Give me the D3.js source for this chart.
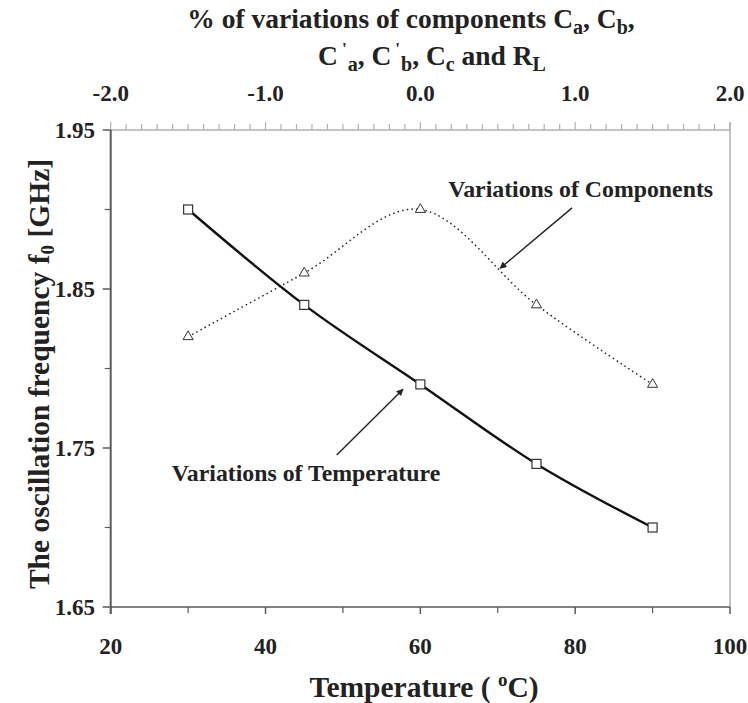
<!DOCTYPE html>
<html>
<head>
<meta charset="utf-8">
<script src="https://cdn.jsdelivr.net/npm/d3@7"></script>
<style>
  html, body { margin: 0; padding: 0; background: #fff; }
  svg { display: block; }
  text { font-family: "Liberation Serif", "Times New Roman", serif; font-weight: bold; fill: #222; }
</style>
</head>
<body>
<script>
// ---- data ----
const temperatures = [30, 45, 60, 75, 90];
const freqVsTemperature = [1.90, 1.84, 1.79, 1.74, 1.70];
const componentVariation = [-1.5, -0.75, 0.0, 0.75, 1.5];
const freqVsComponents = [1.82, 1.86, 1.90, 1.84, 1.79];

const bottomTickValues = [20, 40, 60, 80, 100];
const bottomMinorTicks = [30, 50, 70, 90];
const topTickValues = [-2.0, -1.0, 0.0, 1.0, 2.0];
const leftTickValues = [1.65, 1.75, 1.85, 1.95];
const leftMinorTicks = [1.70, 1.80, 1.90];

// ---- layout ----
const W = 748, H = 703;
const plot = { left: 110.7, right: 730, top: 130, bottom: 607 };

const svg = d3.select("body").append("svg").attr("width", W).attr("height", H);

const x = d3.scaleLinear().domain([20, 100]).range([plot.left, plot.right]);
const xTop = d3.scaleLinear().domain([-2, 2]).range([plot.left, plot.right]);
const y = d3.scaleLinear().domain([1.65, 1.95]).range([plot.bottom, plot.top]);

const darkAxis = "#5a5a5a", lightAxis = "#b0b0b0";
const tickFont = 23;

// top axis (light)
const topMinor = d3.range(-20, 21).map(d => d / 10);
const gTop = svg.append("g");
gTop.append("line").attr("x1", plot.left).attr("x2", plot.right)
  .attr("y1", plot.top).attr("y2", plot.top).attr("stroke", lightAxis).attr("stroke-width", 1.5);
gTop.selectAll("line.t").data(topMinor).join("line").attr("class", "t")
  .attr("x1", d => xTop(d)).attr("x2", d => xTop(d))
  .attr("y1", plot.top)
  .attr("y2", d => Math.abs(d - Math.round(d)) < 1e-9 ? plot.top - 8 : plot.top - 6)
  .attr("stroke", lightAxis).attr("stroke-width", 1.2);
gTop.selectAll("text").data(topTickValues).join("text")
  .attr("x", d => xTop(d)).attr("y", 101).attr("text-anchor", "middle")
  .attr("font-size", tickFont).text(d => d.toFixed(1));

// right axis (light)
svg.append("line").attr("x1", plot.right).attr("x2", plot.right)
  .attr("y1", plot.top - 8).attr("y2", plot.bottom).attr("stroke", lightAxis).attr("stroke-width", 1.5);

// bottom axis (dark)
const gBottom = svg.append("g");
gBottom.append("line").attr("x1", plot.left).attr("x2", plot.right)
  .attr("y1", plot.bottom).attr("y2", plot.bottom).attr("stroke", darkAxis).attr("stroke-width", 1.5);
gBottom.selectAll("line.maj").data(bottomTickValues).join("line").attr("class", "maj")
  .attr("x1", d => x(d)).attr("x2", d => x(d)).attr("y1", plot.bottom).attr("y2", plot.bottom + 7)
  .attr("stroke", darkAxis).attr("stroke-width", 1.5);
gBottom.selectAll("line.min").data(bottomMinorTicks).join("line").attr("class", "min")
  .attr("x1", d => x(d)).attr("x2", d => x(d)).attr("y1", plot.bottom).attr("y2", plot.bottom + 6)
  .attr("stroke", darkAxis).attr("stroke-width", 1.2);
gBottom.selectAll("text").data(bottomTickValues).join("text")
  .attr("x", d => x(d)).attr("y", 654).attr("text-anchor", "middle")
  .attr("font-size", tickFont).text(d => d);

// left axis (dark)
const gLeft = svg.append("g");
gLeft.append("line").attr("x1", plot.left).attr("x2", plot.left)
  .attr("y1", plot.top).attr("y2", plot.bottom + 7).attr("stroke", darkAxis).attr("stroke-width", 2);
gLeft.selectAll("line.maj").data(leftTickValues).join("line").attr("class", "maj")
  .attr("x1", plot.left - 8).attr("x2", plot.left).attr("y1", d => y(d)).attr("y2", d => y(d))
  .attr("stroke", darkAxis).attr("stroke-width", 1.5);
gLeft.selectAll("line.min").data(leftMinorTicks).join("line").attr("class", "min")
  .attr("x1", plot.left - 6).attr("x2", plot.left).attr("y1", d => y(d)).attr("y2", d => y(d))
  .attr("stroke", darkAxis).attr("stroke-width", 1.2);
gLeft.selectAll("text").data(leftTickValues).join("text")
  .attr("x", 95).attr("y", d => y(d)).attr("dy", "0.35em").attr("text-anchor", "end")
  .attr("font-size", tickFont).text(d => d.toFixed(2));

// ---- series ----
const curve = d3.curveCardinal.tension(0);

const tempPts = temperatures.map((t, i) => [x(t), y(freqVsTemperature[i])]);
const compPts = componentVariation.map((c, i) => [xTop(c), y(freqVsComponents[i])]);

svg.append("path").attr("d", d3.line().curve(curve)(compPts))
  .attr("fill", "none").attr("stroke", "#222").attr("stroke-width", 1.5)
  .attr("stroke-dasharray", "1.5,3.2");

svg.append("path").attr("d", d3.line().curve(curve)(tempPts))
  .attr("fill", "none").attr("stroke", "#111").attr("stroke-width", 2.4);

// square markers
svg.selectAll("rect.sq").data(tempPts).join("rect").attr("class", "sq")
  .attr("x", d => d[0] - 4.5).attr("y", d => d[1] - 4.5).attr("width", 9).attr("height", 9)
  .attr("fill", "#fff").attr("stroke", "#333").attr("stroke-width", 1.2);

// triangle markers
const tri = d3.symbol().type(d3.symbolTriangle).size(44);
svg.selectAll("path.tri").data(compPts).join("path").attr("class", "tri")
  .attr("transform", d => `translate(${d[0]},${d[1]})`)
  .attr("d", tri).attr("fill", "#fff").attr("stroke", "#333").attr("stroke-width", 1);

// ---- annotations ----
const defs = svg.append("defs");
defs.append("marker").attr("id", "arrow").attr("viewBox", "0 0 10 10")
  .attr("refX", 9).attr("refY", 5).attr("markerWidth", 9).attr("markerHeight", 7)
  .attr("markerUnits", "userSpaceOnUse").attr("orient", "auto")
  .append("path").attr("d", "M0,0 L10,5 L0,10 z").attr("fill", "#222");

const annFont = 23.8;
svg.append("line")
  .attr("x1", x(79.6)).attr("y1", y(1.901)).attr("x2", x(70.3)).attr("y2", y(1.863))
  .attr("stroke", "#222").attr("stroke-width", 1.4).attr("marker-end", "url(#arrow)");
svg.append("text").attr("x", x(63.6)).attr("y", y(1.908)).attr("font-size", annFont)
  .text("Variations of Components");

svg.append("line")
  .attr("x1", x(49.2)).attr("y1", y(1.7456)).attr("x2", x(57.76)).attr("y2", y(1.787))
  .attr("stroke", "#222").attr("stroke-width", 1.4).attr("marker-end", "url(#arrow)");
svg.append("text").attr("x", x(27.9)).attr("y", y(1.7292)).attr("font-size", annFont)
  .text("Variations of Temperature");

// ---- titles ----
// top title line 1
const t1 = svg.append("text").attr("x", 411).attr("y", 28).attr("text-anchor", "middle").attr("font-size", 27.5);
t1.append("tspan").text("% of variations of components C");
t1.append("tspan").attr("dy", 6).attr("font-size", 20).text("a");
t1.append("tspan").attr("dy", -6).text(", C");
t1.append("tspan").attr("dy", 6).attr("font-size", 20).text("b");
t1.append("tspan").attr("dy", -6).text(",");

// top title line 2
const t2 = svg.append("text").attr("x", 432).attr("y", 65).attr("text-anchor", "middle").attr("font-size", 27.5);
t2.append("tspan").text("C");
t2.append("tspan").attr("dx", 4).attr("dy", -11).attr("font-size", 17).text("'");
t2.append("tspan").attr("dx", 1).attr("dy", 17).attr("font-size", 20).text("a");
t2.append("tspan").attr("dy", -6).text(", C");
t2.append("tspan").attr("dx", 4).attr("dy", -11).attr("font-size", 17).text("'");
t2.append("tspan").attr("dx", 1).attr("dy", 17).attr("font-size", 20).text("b");
t2.append("tspan").attr("dy", -6).text(", C");
t2.append("tspan").attr("dy", 6).attr("font-size", 20).text("c");
t2.append("tspan").attr("dy", -6).text("  and R");
t2.append("tspan").attr("dy", 6).attr("font-size", 20).text("L");

// x title
const xt = svg.append("text").attr("x", 424).attr("y", 697).attr("text-anchor", "middle").attr("font-size", 29.5);
xt.append("tspan").text("Temperature ( ");
xt.append("tspan").attr("dy", -11).attr("font-size", 19).text("o");
xt.append("tspan").attr("dy", 11).text("C)");

// y title
const yt = svg.append("text").attr("transform", "translate(49,374) rotate(-90)")
  .attr("text-anchor", "middle").attr("font-size", 29.5);
yt.append("tspan").text("The oscillation frequency f");
yt.append("tspan").attr("dy", 5).attr("font-size", 19).text("0");
yt.append("tspan").attr("dy", -5).text(" [GHz]");
</script>
</body>
</html>
